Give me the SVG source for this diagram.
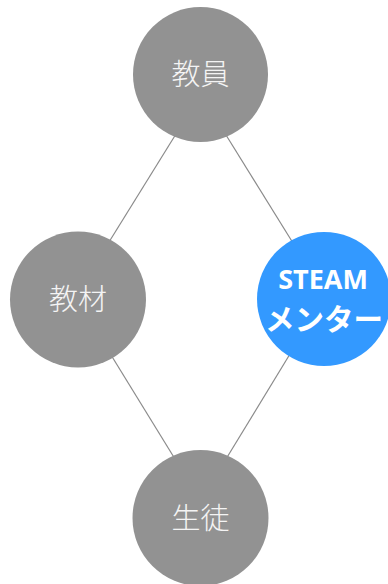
<svg xmlns="http://www.w3.org/2000/svg" width="388" height="584" viewBox="0 0 388 584">
<style>
.edge{stroke:#8a8a8a;stroke-width:1.2;fill:none}
.gray{fill:#929292}
.blue{fill:#3399ff}
.lbl{fill:#f4f4f4;font-family:"Noto Sans CJK JP","Noto Sans",sans-serif;font-size:29px;font-weight:300;text-anchor:middle}
.blbl{fill:#ffffff;font-weight:bold;text-anchor:middle}
</style>
<rect width="388" height="584" fill="#ffffff"/>
<g id="connectors">
<line class="edge" x1="176" y1="134" x2="109" y2="242"/>
<line class="edge" x1="226" y1="135" x2="293" y2="243"/>
<line class="edge" x1="111" y1="355" x2="175" y2="459"/>
<line class="edge" x1="290" y1="354" x2="226" y2="459"/>
</g>
<g id="n1">
<circle class="gray" cx="200.5" cy="74.5" r="67.5"/>
<text class="lbl" x="200.5" y="85">教員</text>
</g>
<g id="n2">
<circle class="gray" cx="78" cy="299.5" r="68"/>
<text class="lbl" x="78" y="310">教材</text>
</g>
<g id="n3">
<circle class="blue" cx="324" cy="299" r="67"/>
<text class="blbl" x="323" y="289" font-family="Open Sans, sans-serif" font-size="27">STEAM</text>
<text class="blbl" x="324" y="330" font-family="Noto Sans CJK JP, sans-serif" font-size="29.5">メンター</text>
</g>
<g id="n4">
<circle class="gray" cx="200.5" cy="518" r="68"/>
<text class="lbl" x="200.5" y="529">生徒</text>
</g>
</svg>
